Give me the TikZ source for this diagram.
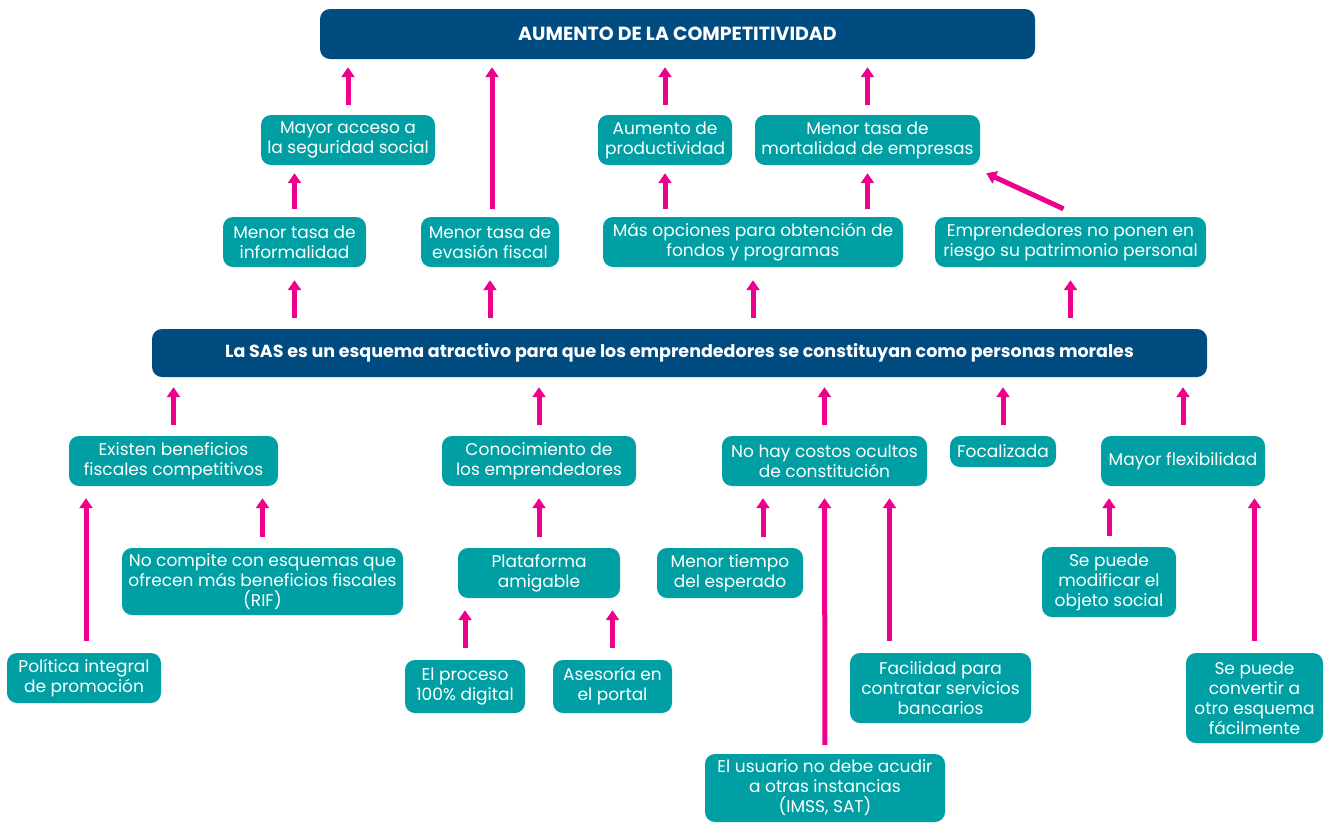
\documentclass[tikz,border=0pt]{standalone}
\usepackage{fontspec}
\setmainfont{Poppins}
\usetikzlibrary{arrows.meta}
\usetikzlibrary{calc}

\definecolor{sasblue}{HTML}{004B7F}
\definecolor{sasteal}{HTML}{009FA3}
\definecolor{saspink}{HTML}{EC008C}

\begin{document}
\begin{tikzpicture}[
    x=1pt, y=-1pt,
    box/.style={fill=sasteal, text=white, rounded corners=10pt, align=center, minimum height=50pt, inner sep=1pt, font=\fontsize{17}{20}\selectfont},
    head/.style={fill=sasblue, text=white, rounded corners=10pt, align=center, inner sep=1pt, font=\bfseries\fontsize{17.5}{20}\selectfont},
    up/.style={draw=saspink, line width=5pt, -{Triangle[width=13pt,length=10pt]}, shorten <=8pt, shorten >=8pt},
    low/.style={up, shorten <=12pt, shorten >=12pt}
]
    \useasboundingbox (0,0) rectangle (1325,823);

    % Goal
    \node[head, minimum width=715, minimum height=50, font=\bfseries\fontsize{19}{20}\selectfont] (goal) at (677.5,34) {AUMENTO DE LA COMPETITIVIDAD};

    % Effects
    \node[box, minimum width=174] (access) at (348,140) {Mayor acceso a\\la seguridad social};
    \node[box, minimum width=134] (product) at (665,140) {Aumento de\\productividad};
    \node[box, minimum width=225] (mortal) at (867.5,140) {Menor tasa de\\mortalidad de empresas};

    \node[box, minimum width=143] (informal) at (294.5,242) {Menor tasa de\\informalidad};
    \node[box, minimum width=138] (evasion) at (490,242) {Menor tasa de\\evasión fiscal};
    \node[box, minimum width=300] (funds) at (753,242) {Más opciones para obtención de\\fondos y programas};
    \node[box, minimum width=271] (assets) at (1070.5,242) {Emprendedores no ponen en\\riesgo su patrimonio personal};

    % SAS scheme
    \node[head, minimum width=1055, minimum height=48] (sas) at (679.5,353) {La SAS es un esquema atractivo para que los emprendedores se constituyan como personas morales};

    % Causes
    \node[box, minimum width=209] (benefit) at (173.5,461) {Existen beneficios\\fiscales competitivos};
    \node[box, minimum width=194] (knowledge) at (539,461) {Conocimiento de\\los emprendedores};
    \node[box, minimum width=205] (costs) at (824.5,461) {No hay costos ocultos\\de constitución};
    \node[box, minimum width=106, minimum height=31] (focus) at (1003,451.5) {Focalizada};
    \node[box, minimum width=164] (flex) at (1183,461) {Mayor flexibilidad};

    \node[box, minimum width=281, minimum height=67] (compete) at (262.5,581.5) {No compite con esquemas que\\ofrecen más beneficios fiscales\\(RIF)};
    \node[box, minimum width=162] (platform) at (539,573) {Plataforma\\amigable};
    \node[box, minimum width=146] (time) at (730,573) {Menor tiempo\\del esperado};
    \node[box, minimum width=134, minimum height=70] (object) at (1109,582) {Se puede\\modificar el\\objeto social};

    \node[box, minimum width=154] (policy) at (84,678) {Política integral\\de promoción};
    \node[box, minimum width=120, minimum height=53] (digital) at (465,686.5) {El proceso\\100\% digital};
    \node[box, minimum width=119, minimum height=53] (advice) at (612.5,686.5) {Asesoría en\\el portal};
    \node[box, minimum width=181, minimum height=70] (bank) at (940.5,688) {Facilidad para\\contratar servicios\\bancarios};
    \node[box, minimum width=137, minimum height=90] (convert) at (1254.5,698) {Se puede\\convertir a\\otro esquema\\fácilmente};
    \node[box, minimum width=240, minimum height=68] (user) at (825,788) {El usuario no debe acudir\\a otras instancias\\(IMSS, SAT)};

    % Upper arrows
    \draw[up, shorten <=10pt] (access.north) -- (access.north |- goal.south);
    \draw[up] ([xshift=2]evasion.north) -- ([xshift=2]evasion.north |- goal.south);
    \draw[up, shorten <=10pt] (product.north) -- (product.north |- goal.south);
    \draw[up, shorten <=10pt] (mortal.north) -- (mortal.north |- goal.south);
    \draw[up] (informal.north) -- (informal.north |- access.south);
    \draw[up] (funds.north -| product) -- (product.south);
    \draw[up] (funds.north -| mortal) -- (mortal.south);
    \draw[up, shorten <=0pt, shorten >=0pt] ([shift={(-7,-8)}]assets.north) -- ([shift={(6,8)}]mortal.south east);

    % From the SAS
    \foreach \n in {informal, evasion, funds, assets}
        \draw[up, shorten <=11pt, shorten >=13pt] (sas.north -| \n) -- (\n.south);
    \foreach \n in {benefit, knowledge, costs, focus, flex}
        \draw[up, shorten <=11pt, shorten >=10pt] (\n.north) -- (\n.north |- sas.south);

    % Lower arrows
    \draw[low] ([xshift=2]policy.north) -- ([xshift=2]policy.north |- benefit.south);
    \draw[low, shorten <=11pt] (compete.north) -- (compete.north |- benefit.south);
    \draw[low, shorten <=11pt] (platform.north) -- (knowledge.south);
    \draw[low] (digital.north) -- (digital.north |- platform.south);
    \draw[low] (advice.north) -- (advice.north |- platform.south);
    \draw[low, shorten <=11pt] ([xshift=33]time.north) -- ([xshift=33]time.north |- costs.south);
    \draw[low, shorten <=9pt] (user.north) -- (costs.south);
    \draw[low] ([xshift=-51]bank.north) -- ([xshift=-51]bank.north |- costs.south);
    \draw[low, shorten <=11pt] (object.north) -- (object.north |- flex.south);
    \draw[low] (convert.north) -- (convert.north |- flex.south);
\end{tikzpicture}
\end{document}
